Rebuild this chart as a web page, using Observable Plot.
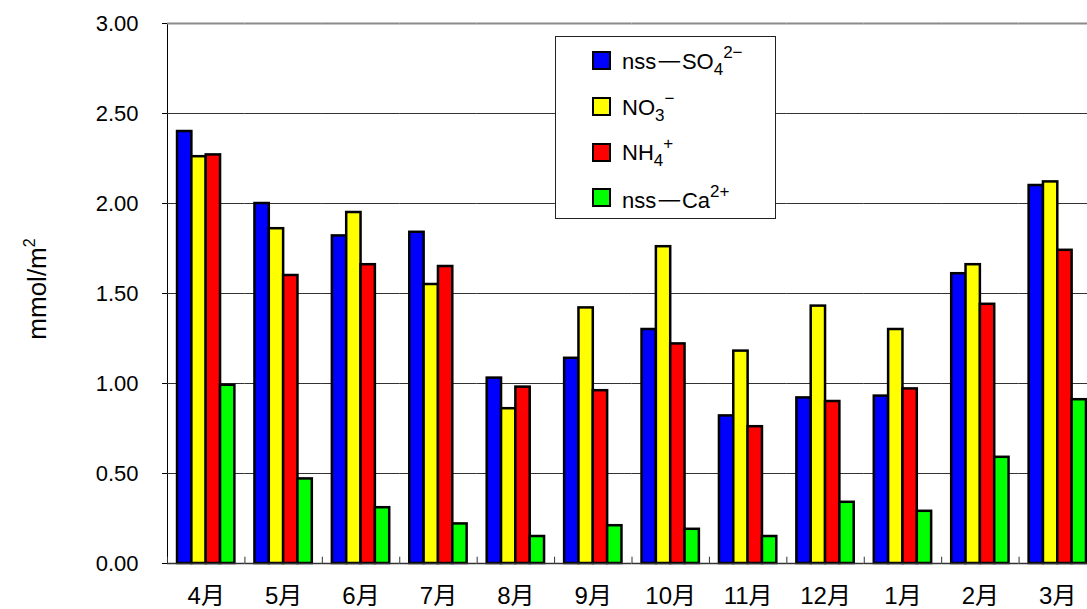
<!DOCTYPE html>
<html>
<head>
<meta charset="utf-8">
<script src="https://cdn.jsdelivr.net/npm/d3@7"></script>
<script src="https://cdn.jsdelivr.net/npm/@observablehq/plot@0.6"></script>
<style>
  html, body { margin: 0; padding: 0; background: #fff; }
  #wrap { position: relative; width: 1087px; height: 609px; overflow: hidden; background: #fff;
          font-family: "Liberation Sans", Arial, "Noto Sans CJK JP", sans-serif; }
  #ylabel { position: absolute; left: 36px; top: 289px; transform: translate(-50%, -50%) rotate(-90deg);
            font-size: 26px; white-space: nowrap; color: #000; line-height: 1; }
  #ylabel sup { font-size: 16px; vertical-align: 11px; }
  #legend { position: absolute; left: 555px; top: 36px; width: 221px; height: 183px;
            border: 1px solid #222; background: #fff; box-sizing: border-box; padding-top: 1px; }
  .entry { height: 45.7px; display: flex; align-items: center; padding-left: 36px; font-size: 22px; color: #000; line-height: 1; }
  .sw { width: 15px; height: 15px; border: 2px solid #000; margin-right: 11px; flex: none; }
  .entry sub { font-size: 17px; vertical-align: -6px; }
  .entry sup { font-size: 17px; vertical-align: 11px; }
  .fw { display: inline-block; transform: scaleX(2); margin: 0 6.4px; }
</style>
</head>
<body>
<div id="wrap">
  <div id="chart"></div>
  <div id="ylabel">mmol/m<sup>2</sup></div>
  <div id="legend"></div>
</div>
<script>
// ---- data ----
const months = ["4月", "5月", "6月", "7月", "8月", "9月", "10月", "11月", "12月", "1月", "2月", "3月"];
const seriesKeys = ["nss-SO4", "NO3", "NH4", "nss-Ca"];
const seriesPrefix = ["nss", "", "", "nss"];
const seriesBase = ["SO", "NO", "NH", "Ca"];
const seriesSub = ["4", "3", "4", ""];
const seriesSup = ["2\u2212", "\u2212", "+", "2+"];
const seriesColors = ["#0000ff", "#ffff00", "#ff0000", "#00ff00"];

const so4 = [2.40, 2.00, 1.82, 1.84, 1.03, 1.14, 1.30, 0.82, 0.92, 0.93, 1.61, 2.10];
const no3 = [2.26, 1.86, 1.95, 1.55, 0.86, 1.42, 1.76, 1.18, 1.43, 1.30, 1.66, 2.12];
const nh4 = [2.27, 1.60, 1.66, 1.65, 0.98, 0.96, 1.22, 0.76, 0.90, 0.97, 1.44, 1.74];
const ca  = [0.99, 0.47, 0.31, 0.22, 0.15, 0.21, 0.19, 0.15, 0.34, 0.29, 0.59, 0.91];

const yTicks = [0, 0.5, 1.0, 1.5, 2.0, 2.5, 3.0];

// ---- table ----
const seriesValues = [so4, no3, nh4, ca];
const rows = [];
months.forEach((m, i) => {
  seriesKeys.forEach((s, j) => rows.push({month: m, series: s, value: seriesValues[j][i]}));
});
const innerGrid = yTicks.filter(t => t > 0 && t < 3);

const hasAxisMarks = typeof Plot.axisFx === "function";
const axisMarks = hasAxisMarks
  ? [Plot.axisFx({anchor: "bottom", fontSize: 24, tickSize: 0, tickPadding: 23, label: null})]
  : [];
const fxOptions = {domain: months, padding: 0, round: false, label: null, tickSize: 0, tickPadding: 23};
if (!hasAxisMarks) fxOptions.axis = "bottom";

const chart = Plot.plot({
  width: 1087,
  height: 609,
  marginTop: 23,
  marginBottom: 46,
  marginLeft: 167,
  marginRight: -9,
  style: {
    background: "#fff",
    color: "#000",
    fontFamily: "'Liberation Sans', Arial, 'Noto Sans CJK JP', sans-serif",
    fontSize: "22px"
  },
  fx: fxOptions,
  x: {domain: seriesKeys, paddingInner: 0, paddingOuter: 0.7, round: false, axis: null},
  y: {domain: [0, 3], ticks: yTicks, tickFormat: d3.format(".2f"), tickSize: 5, tickPadding: 24, label: null, line: true},
  color: {domain: seriesKeys, range: seriesColors},
  marks: [
    Plot.ruleY(innerGrid, {stroke: "#333", strokeWidth: 1}),
    Plot.ruleY([3], {stroke: "#8a8a8a", strokeWidth: 2}),
    Plot.barY(rows, {fx: "month", x: "series", y: "value", fill: "series", stroke: "#000", strokeWidth: 2.5, inset: 0}),
    Plot.ruleY([0], {stroke: "#333", strokeWidth: 1.5}),
    Plot.ruleX(months, {fx: d => d, x: () => "nss-SO4", y1: 0, y2: 0.035, dx: -17.2, stroke: "#333", strokeWidth: 1}),
    ...axisMarks
  ]
});
document.getElementById("chart").appendChild(chart);

// ---- legend ----
const legend = document.getElementById("legend");
seriesKeys.forEach((s, i) => {
  const e = document.createElement("div");
  e.className = "entry";
  const sw = document.createElement("span");
  sw.className = "sw";
  sw.style.background = seriesColors[i];
  e.appendChild(sw);
  const t = document.createElement("span");
  if (seriesPrefix[i]) {
    t.appendChild(document.createTextNode(seriesPrefix[i]));
    const dash = document.createElement("span");
    dash.className = "fw";
    dash.textContent = "\u2212";
    t.appendChild(dash);
  }
  t.appendChild(document.createTextNode(seriesBase[i]));
  if (seriesSub[i]) { const sub = document.createElement("sub"); sub.textContent = seriesSub[i]; t.appendChild(sub); }
  if (seriesSup[i]) { const sup = document.createElement("sup"); sup.textContent = seriesSup[i]; t.appendChild(sup); }
  e.appendChild(t);
  legend.appendChild(e);
});
</script>
</body>
</html>
